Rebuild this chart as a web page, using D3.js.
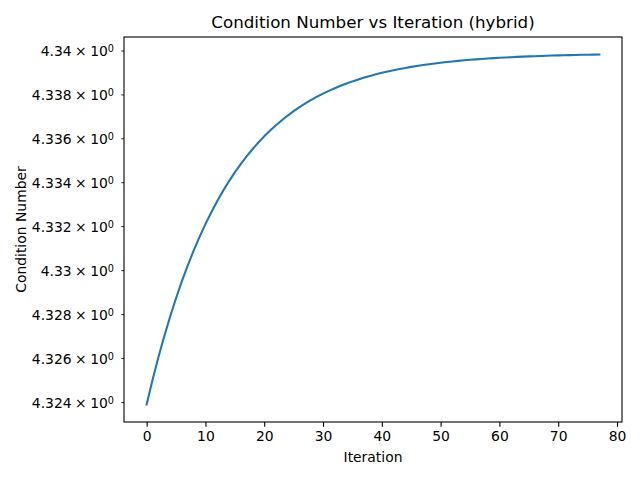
<!DOCTYPE html>
<html><head><meta charset="utf-8">
<script src="https://cdn.jsdelivr.net/npm/d3@7"></script>
<style>body{margin:0;background:#fff}svg{display:block}text{font-family:"DejaVu Sans",sans-serif;fill:#000;white-space:pre}</style>
</head><body>
<svg id="c" width="640" height="480"></svg>
<script>
const iterations = d3.range(0, 78);
const conditionNumber = [
4.323891,4.325001,4.326034,4.326995,4.327890,4.328722,4.329497,4.330218,4.330889,4.331513,
4.332094,4.332634,4.333138,4.333606,4.334041,4.334447,4.334824,4.335175,4.335502,4.335806,
4.336089,4.336352,4.336597,4.336825,4.337037,4.337235,4.337419,4.337590,4.337749,4.337897,
4.338035,4.338163,4.338282,4.338393,4.338497,4.338593,4.338682,4.338766,4.338843,4.338915,
4.338982,4.339045,4.339103,4.339157,4.339207,4.339254,4.339298,4.339338,4.339376,4.339411,
4.339444,4.339474,4.339503,4.339529,4.339553,4.339576,4.339597,4.339617,4.339636,4.339653,
4.339669,4.339683,4.339697,4.339710,4.339722,4.339733,4.339743,4.339753,4.339762,4.339770,
4.339778,4.339785,4.339792,4.339798,4.339804,4.339809,4.339815,4.339819];
const xTicks = [0,10,20,30,40,50,60,70,80];
const yTicks = [4.324,4.326,4.328,4.330,4.332,4.334,4.336,4.338,4.340];
const yTickLabels = ["4.324","4.326","4.328","4.33","4.332","4.334","4.336","4.338","4.34"];
const titleText = "Condition Number vs Iteration (hybrid)";
const xLabel = "Iteration";
const yLabel = "Condition Number";

const L = 124, R = 622, T = 37, B = 422;
const svg = d3.select("#c");

const xmin = d3.min(iterations), xmax = d3.max(iterations), xpad = (xmax - xmin) * 0.05;
const x = d3.scaleLinear().domain([xmin - xpad, xmax + xpad]).range([L, R]);
const lmin = Math.log10(d3.min(conditionNumber)), lmax = Math.log10(d3.max(conditionNumber));
const lpad = (lmax - lmin) * 0.05;
const y = d3.scaleLog().domain([Math.pow(10, lmin - lpad), Math.pow(10, lmax + lpad)]).range([B, T]);

// line
const line = d3.line().x((d, i) => x(iterations[i])).y(d => y(d));
svg.append("path").datum(conditionNumber).attr("d", line)
  .attr("fill", "none").attr("stroke", "#1f77b4").attr("stroke-width", 2.08)
  .attr("stroke-linecap", "square").attr("stroke-linejoin", "round");

// x axis
const xa = svg.append("g").attr("transform", `translate(0,${B})`)
  .call(d3.axisBottom(x).tickValues(xTicks).tickSize(4.86).tickPadding(4.5).tickFormat(d3.format("d")));
xa.select(".domain").remove();
xa.selectAll("line").attr("stroke", "#000").attr("stroke-width", 1.1);
xa.selectAll("text").attr("font-size", "13.9px").attr("font-family", "DejaVu Sans").attr("fill", "#000");

// y axis (minor-style labeled ticks)
const ya = svg.append("g").attr("transform", `translate(${L},0)`)
  .call(d3.axisLeft(y).tickValues(yTicks).tickSize(2.78).tickPadding(6).tickFormat(""));
ya.select(".domain").remove();
ya.selectAll("line").attr("stroke", "#000").attr("stroke-width", 0.83);
ya.selectAll(".tick").each(function(d, i) {
  const g = d3.select(this);
  const t = g.append("text").attr("x", -10).attr("dy", "0.38em")
    .attr("text-anchor", "end").attr("font-size", "13.9px").attr("fill", "#000");
  t.append("tspan").text(yTickLabels[i] + "\u2005\u00d7\u200510");
  t.append("tspan").attr("dy", "-0.42em").attr("font-size", "9.7px").text("0");
});

// spines
svg.append("rect").attr("x", L).attr("y", T).attr("width", R - L).attr("height", B - T)
  .attr("fill", "none").attr("stroke", "#000").attr("stroke-width", 1.1);

// labels
svg.append("text").attr("x", (L + R) / 2).attr("y", 27.5).attr("text-anchor", "middle")
  .attr("font-size", "16.7px").text(titleText);
svg.append("text").attr("x", (L + R) / 2).attr("y", 462).attr("text-anchor", "middle")
  .attr("font-size", "13.9px").text(xLabel);
svg.append("text").attr("transform", `translate(26,${(T + B) / 2}) rotate(-90)`)
  .attr("text-anchor", "middle").attr("font-size", "13.9px").text(yLabel);
</script>
</body></html>
